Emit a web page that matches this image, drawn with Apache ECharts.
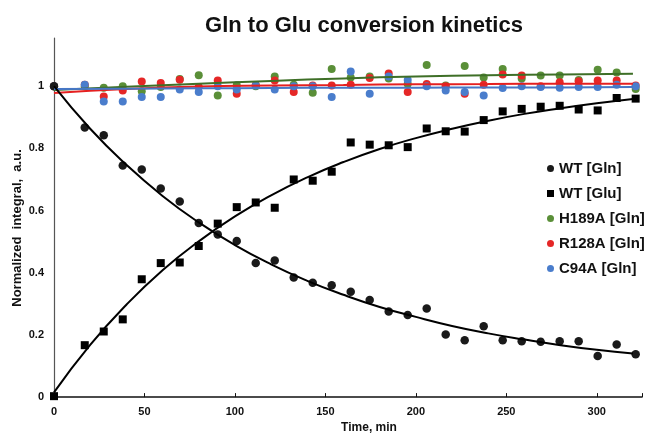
<!DOCTYPE html>
<html><head><meta charset="utf-8">
<script src="https://cdn.jsdelivr.net/npm/echarts@6/dist/echarts.min.js"></script>
<style>html,body{margin:0;padding:0;background:#fff;overflow:hidden}#c{width:652px;height:439px}</style>
</head><body><div id="c"></div>
<script>
var times = [0, 17, 27.5, 38, 48.5, 59, 69.5, 80, 90.5, 101, 111.5, 122, 132.5, 143, 153.5, 164, 174.5, 185, 195.5, 206, 216.5, 227, 237.5, 248, 258.5, 269, 279.5, 290, 300.5, 311, 321.5];
var wtGln = [1.0, 0.867, 0.842, 0.745, 0.732, 0.671, 0.629, 0.560, 0.523, 0.502, 0.431, 0.439, 0.385, 0.368, 0.360, 0.339, 0.312, 0.275, 0.264, 0.285, 0.201, 0.183, 0.228, 0.183, 0.180, 0.178, 0.180, 0.180, 0.132, 0.169, 0.138];
var wtGlu = [0.003, 0.167, 0.211, 0.250, 0.379, 0.431, 0.433, 0.486, 0.558, 0.611, 0.626, 0.609, 0.700, 0.696, 0.725, 0.819, 0.812, 0.810, 0.804, 0.864, 0.855, 0.854, 0.891, 0.919, 0.927, 0.934, 0.937, 0.925, 0.922, 0.962, 0.960];
var h189a = [1.0, 1.0, 0.995, 1.0, 0.984, 0.997, 1.023, 1.035, 0.970, 1.003, 1.0, 1.031, 1.005, 0.979, 1.055, 1.028, 1.031, 1.025, 1.007, 1.068, 1.002, 1.065, 1.028, 1.055, 1.025, 1.034, 1.034, 1.020, 1.053, 1.044, 0.991];
var r128a = [1.0, 1.005, 0.967, 0.986, 1.015, 1.010, 1.021, 0.997, 1.018, 0.976, 1.004, 1.018, 0.981, 1.002, 1.002, 1.005, 1.026, 1.041, 0.981, 1.007, 1.0, 0.976, 1.005, 1.038, 1.034, 1.0, 1.013, 1.016, 1.018, 1.018, 1.002];
var c94a = [1.0, 1.005, 0.951, 0.951, 0.965, 0.965, 0.989, 0.981, 1.0, 0.989, 1.002, 0.989, 1.0, 1.0, 0.965, 1.047, 0.976, 1.031, 1.020, 1.0, 0.986, 0.981, 0.970, 0.994, 1.0, 0.997, 0.995, 0.997, 0.997, 1.005, 1.0];

// fitted curves
var fitT = [0, 20, 40, 60, 80, 100, 120, 140, 160, 180, 200, 220, 240, 260, 280, 300, 320];
var fitGln = [1.0, 0.863, 0.747, 0.647, 0.562, 0.489, 0.427, 0.374, 0.329, 0.290, 0.258, 0.229, 0.205, 0.185, 0.167, 0.152, 0.140];
var fitGlu = [0.015, 0.168, 0.297, 0.408, 0.501, 0.581, 0.649, 0.707, 0.756, 0.798, 0.833, 0.863, 0.889, 0.911, 0.929, 0.945, 0.959];
var fitMutT = [0, 40, 80, 120, 160, 200, 240, 280, 320];
var fitH189A = [0.988, 0.998, 1.008, 1.017, 1.025, 1.031, 1.035, 1.038, 1.040];
var fitR128A = [0.978, 0.991, 0.999, 1.002, 1.004, 1.006, 1.007, 1.008, 1.008];
var fitC94A = [0.991, 0.992, 0.993, 0.994, 0.995, 0.995, 0.996, 0.996, 0.997];

var xTicks = [0, 50, 100, 150, 200, 250, 300];
var yTicks = [0, 0.2, 0.4, 0.6, 0.8, 1];

function pairs(xs, ys) { return xs.map(function (x, i) { return [x, ys[i]]; }); }

var FONT = 'Liberation Sans, Arial, Helvetica, sans-serif';
var cGreen = '#5a8f38', cGreenLine = '#3e6f27';
var cRed = '#e52727', cRedLine = '#e52020';
var cBlue = '#4a7dcc', cBlueLine = '#4677c6';

var chart = echarts.init(document.getElementById('c'));
var dot = 8;
chart.setOption({
  animation: false,
  backgroundColor: '#fff',
  textStyle: { fontFamily: FONT },
  title: {
    text: 'Gln to Glu conversion kinetics',
    left: 359, top: 10, textAlign: 'center',
    textStyle: { fontFamily: FONT, fontSize: 22, fontWeight: 'bold', color: '#111' }
  },
  legend: {
    orient: 'vertical', left: 542, top: 156, itemGap: 10,
    itemWidth: 7, itemHeight: 7,
    data: [
      { name: 'WT [Gln]', icon: 'circle' },
      { name: 'WT [Glu]', icon: 'rect' },
      { name: 'H189A [Gln]', icon: 'circle' },
      { name: 'R128A [Gln]', icon: 'circle' },
      { name: 'C94A [Gln]', icon: 'circle' }
    ],
    textStyle: { fontFamily: FONT, fontSize: 15, fontWeight: 'bold', color: '#111' }
  },
  grid: { left: 54, right: 10, top: 38, bottom: 36 },
  xAxis: {
    type: 'value', min: 0, max: 325, interval: 50,
    name: 'Time, min', nameLocation: 'middle', nameGap: 24,
    nameTextStyle: { fontFamily: FONT, fontSize: 12, fontWeight: 'bold', color: '#111', padding: [0, 0, 0, 42] },
    axisLine: { lineStyle: { color: '#111', width: 1.5 } },
    axisTick: { inside: true, length: 4, lineStyle: { color: '#111' } },
    axisLabel: {
      fontFamily: FONT, fontSize: 11, fontWeight: 'bold', color: '#111', margin: 9,
      formatter: function (v) { return xTicks.indexOf(v) >= 0 ? String(v) : ''; }
    },
    splitLine: { show: false }
  },
  yAxis: {
    type: 'value', min: 0, max: 1.155, interval: 0.2,
    axisLine: { show: true, lineStyle: { color: '#555', width: 1.2 } },
    axisTick: { show: false },
    axisLabel: {
      fontFamily: FONT, fontSize: 11, fontWeight: 'bold', color: '#111', margin: 10,
      formatter: function (v) {
        for (var i = 0; i < yTicks.length; i++) { if (Math.abs(v - yTicks[i]) < 1e-6) return String(yTicks[i]); }
        return '';
      }
    },
    splitLine: { show: false }
  },
  graphic: [{
    type: 'text', x: 17, y: 228, rotation: Math.PI / 2,
    style: { text: 'Normalized  integral,  a.u.', font: 'bold 13px ' + FONT, fill: '#111', textAlign: 'center', textVerticalAlign: 'middle' }
  }],
  series: [
    { name: 'H189A [Gln]', type: 'scatter', symbol: 'circle', symbolSize: dot, itemStyle: { color: cGreen, opacity: 1 }, data: pairs(times, h189a), z: 2 },
    { name: 'R128A [Gln]', type: 'scatter', symbol: 'circle', symbolSize: dot, itemStyle: { color: cRed, opacity: 1 }, data: pairs(times, r128a), z: 2 },
    { name: 'C94A [Gln]', type: 'scatter', symbol: 'circle', symbolSize: dot, itemStyle: { color: cBlue, opacity: 1 }, data: pairs(times, c94a), z: 2 },
    { name: 'WT [Gln]', type: 'scatter', symbol: 'circle', symbolSize: 8.5, itemStyle: { color: '#1a1a1a', opacity: 1 }, data: pairs(times, wtGln), z: 2 },
    { name: 'WT [Glu]', type: 'scatter', symbol: 'rect', symbolSize: 8, itemStyle: { color: '#000', opacity: 1 }, data: pairs(times, wtGlu), z: 2 },
    { name: 'fitH', type: 'line', smooth: true, showSymbol: false, lineStyle: { color: cGreenLine, width: 2 }, data: pairs(fitMutT, fitH189A), z: 3 },
    { name: 'fitR', type: 'line', smooth: true, showSymbol: false, lineStyle: { color: cRedLine, width: 2 }, data: pairs(fitMutT, fitR128A), z: 3 },
    { name: 'fitC', type: 'line', smooth: true, showSymbol: false, lineStyle: { color: cBlueLine, width: 2 }, data: pairs(fitMutT, fitC94A), z: 3 },
    { name: 'fitGln', type: 'line', smooth: true, showSymbol: false, lineStyle: { color: '#000', width: 2 }, data: pairs(fitT, fitGln), z: 3 },
    { name: 'fitGlu', type: 'line', smooth: true, showSymbol: false, lineStyle: { color: '#000', width: 2 }, data: pairs(fitT, fitGlu), z: 3 }
  ]
});
</script></body></html>
